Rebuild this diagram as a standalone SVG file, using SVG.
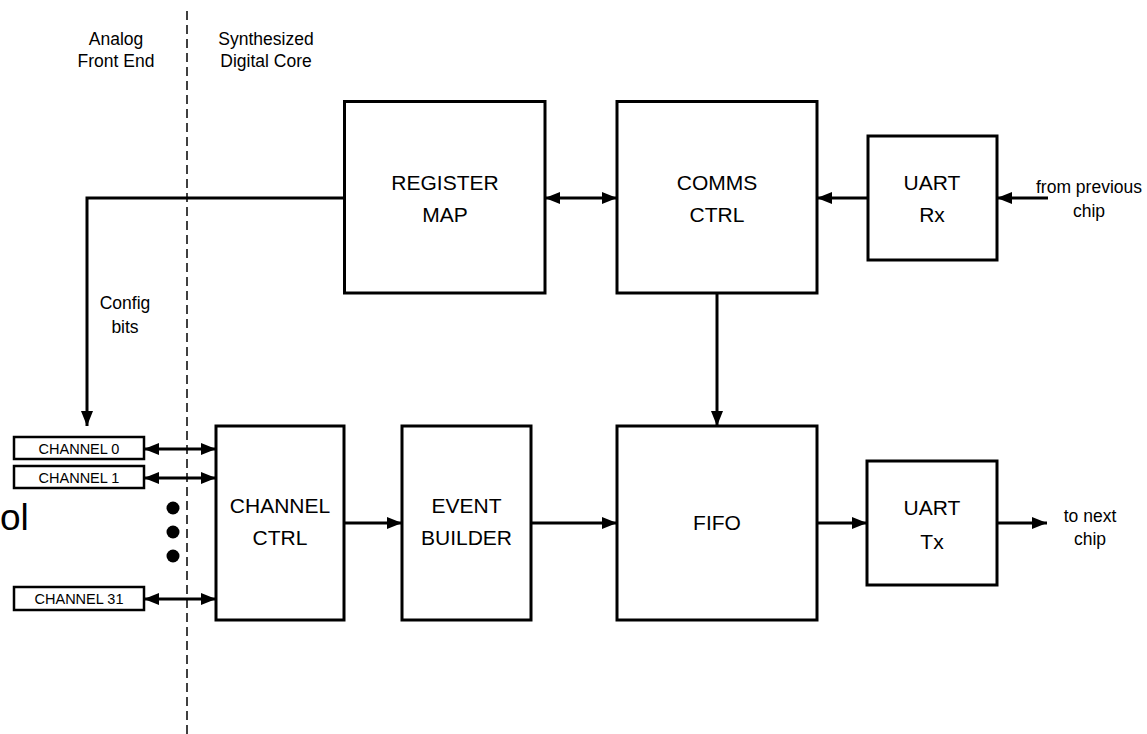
<svg xmlns="http://www.w3.org/2000/svg" width="1147" height="734" viewBox="0 0 1147 734">
<style>
.box{fill:#fff;stroke:#000;stroke-width:3}
.cbox{fill:#fff;stroke:#000;stroke-width:2.5}
.lbl{font-family:"Liberation Sans",Arial,sans-serif;font-size:21px;fill:#000;text-anchor:middle}
.sm{font-family:"Liberation Sans",Arial,sans-serif;font-size:17.5px;fill:#000;text-anchor:middle}
.ch{font-family:"Liberation Sans",Arial,sans-serif;font-size:14.5px;fill:#000;text-anchor:middle}
.wire{fill:none;stroke:#000;stroke-width:3}
.arr{marker-end:url(#ah)}
.dbl{marker-start:url(#ah);marker-end:url(#ah)}
</style>
<defs>
<marker id="ah" markerUnits="userSpaceOnUse" markerWidth="16" markerHeight="13" refX="15" refY="6" orient="auto-start-reverse">
<path d="M0,0 L15,6 L0,12 z" fill="#000"/>
</marker>
</defs>
<rect width="1147" height="734" fill="#fff"/>
<g id="divider">
<line x1="187" y1="11" x2="187" y2="734" stroke="#404040" stroke-width="2" stroke-dasharray="9,5"/>
</g>
<g id="region-labels">
<text class="sm" x="116" y="45">Analog</text>
<text class="sm" x="116" y="67">Front End</text>
<text class="sm" x="266" y="45">Synthesized</text>
<text class="sm" x="266" y="67">Digital Core</text>
</g>
<text x="0" y="530" font-family="Liberation Sans, Arial, sans-serif" font-size="37" fill="#000">ol</text>
<g id="connectors">
<line class="wire dbl" x1="545" y1="198" x2="617" y2="198"/>
<line class="wire arr" x1="868" y1="198" x2="817" y2="198"/>
<line class="wire arr" x1="1048" y1="198" x2="997" y2="198"/>
<polyline class="wire arr" points="344,198 87,198 87,426"/>
<line class="wire arr" x1="717" y1="293" x2="717" y2="426"/>
<line class="wire dbl" x1="144" y1="449" x2="216" y2="449"/>
<line class="wire dbl" x1="144" y1="478" x2="216" y2="478"/>
<line class="wire dbl" x1="144" y1="599" x2="216" y2="599"/>
<line class="wire arr" x1="344" y1="523" x2="402" y2="523"/>
<line class="wire arr" x1="531" y1="523" x2="617" y2="523"/>
<line class="wire arr" x1="817" y1="523" x2="867" y2="523"/>
<line class="wire arr" x1="997" y1="523" x2="1047" y2="523"/>
</g>
<g id="config-label">
<text class="sm" x="125" y="309">Config</text>
<text class="sm" x="125" y="333">bits</text>
</g>
<g id="io-labels">
<text class="sm" x="1089" y="193">from previous</text>
<text class="sm" x="1089" y="217">chip</text>
<text class="sm" x="1090" y="522">to next</text>
<text class="sm" x="1090" y="545">chip</text>
</g>
<g id="register-map">
<rect class="box" x="344.5" y="101.5" width="200.5" height="191.5"/>
<text class="lbl" x="445" y="190">REGISTER</text>
<text class="lbl" x="445" y="222">MAP</text>
</g>
<g id="comms-ctrl">
<rect class="box" x="617" y="101.5" width="200" height="191.5"/>
<text class="lbl" x="717" y="190">COMMS</text>
<text class="lbl" x="717" y="222">CTRL</text>
</g>
<g id="uart-rx">
<rect class="box" x="868" y="136" width="129" height="124"/>
<text class="lbl" x="932" y="190">UART</text>
<text class="lbl" x="932" y="222">Rx</text>
</g>
<g id="channel-0">
<rect class="cbox" x="14" y="437" width="130" height="22"/>
<text class="ch" x="79" y="454">CHANNEL 0</text>
</g>
<g id="channel-1">
<rect class="cbox" x="14" y="466" width="130" height="22"/>
<text class="ch" x="79" y="483">CHANNEL 1</text>
</g>
<g id="ellipsis">
<circle cx="173" cy="508" r="6.5" fill="#000"/>
<circle cx="173" cy="532" r="6.5" fill="#000"/>
<circle cx="173" cy="556" r="6.5" fill="#000"/>
</g>
<g id="channel-31">
<rect class="cbox" x="14" y="587" width="130" height="23"/>
<text class="ch" x="79" y="604">CHANNEL 31</text>
</g>
<g id="channel-ctrl">
<rect class="box" x="216" y="426" width="128" height="194"/>
<text class="lbl" x="280" y="513">CHANNEL</text>
<text class="lbl" x="280" y="545">CTRL</text>
</g>
<g id="event-builder">
<rect class="box" x="402" y="426" width="129" height="194"/>
<text class="lbl" x="466.5" y="513">EVENT</text>
<text class="lbl" x="466.5" y="545">BUILDER</text>
</g>
<g id="fifo">
<rect class="box" x="617" y="426" width="200" height="194"/>
<text class="lbl" x="717" y="530">FIFO</text>
</g>
<g id="uart-tx">
<rect class="box" x="867" y="461" width="130" height="124"/>
<text class="lbl" x="932" y="515">UART</text>
<text class="lbl" x="932" y="549">Tx</text>
</g>
</svg>
